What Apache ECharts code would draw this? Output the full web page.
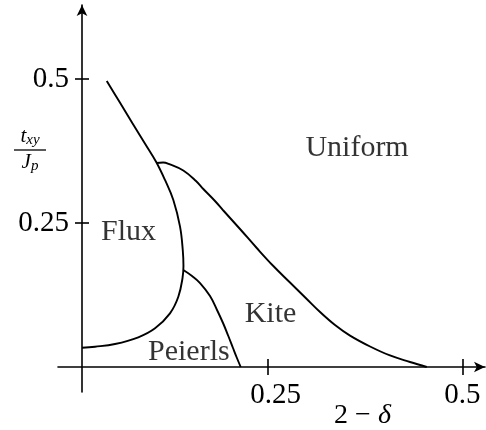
<!DOCTYPE html>
<html>
<head>
<meta charset="utf-8">
<script src="https://cdn.jsdelivr.net/npm/echarts@6/dist/echarts.min.js"></script>
<style>
  html, body { margin: 0; padding: 0; background: #fff; }
  #chart { width: 486px; height: 430px; }
</style>
</head>
<body>
<div id="chart"></div>
<script>
// Phase boundaries in the (2 - delta, t_xy / J_p) plane
const fluxBoundary = [
  [0.0433, 0.4965], [0.0598, 0.4601], [0.0761, 0.4236], [0.0919, 0.3889],
  [0.1068, 0.3559], [0.1181, 0.3247], [0.1288, 0.2899], [0.1374, 0.2436],
  [0.1409, 0.2031], [0.1418, 0.1753], [0.1406, 0.1545], [0.1352, 0.1220],
  [0.1245, 0.0932], [0.1053, 0.0672], [0.0838, 0.0516], [0.0539, 0.0399],
  [0.0282, 0.0352], [0.0116, 0.0335]
];
const kiteBoundary = [
  [0.1075, 0.3542], [0.1156, 0.3550], [0.1245, 0.3516], [0.1416, 0.3411],
  [0.1579, 0.3229], [0.1673, 0.3090], [0.1823, 0.2882], [0.1930, 0.2717],
  [0.2144, 0.2396], [0.2359, 0.2066], [0.2572, 0.1753], [0.2786, 0.1467],
  [0.3001, 0.1181], [0.3172, 0.0955], [0.3364, 0.0729], [0.3557, 0.0545],
  [0.3814, 0.0356], [0.4070, 0.0200], [0.4327, 0.0087], [0.4542, 0.0000]
];
const peierlsBoundary = [
  [0.1416, 0.1684], [0.1528, 0.1580], [0.1631, 0.1458], [0.1759, 0.1233],
  [0.1849, 0.0990], [0.1926, 0.0764], [0.1994, 0.0538], [0.2054, 0.0330],
  [0.2102, 0.0165], [0.2153, 0.0000]
];

// Phase names and where they sit
const regionNames = ['Uniform', 'Flux', 'Kite', 'Peierls'];
const regionX = [0.3647, 0.0713, 0.2536, 0.1487];
const regionY = [0.3800, 0.2344, 0.0920, 0.0260];

// Axis ranges and ticks
const xRange = [-0.0193, 0.529];
const yRange = [-0.0434, 0.6285];
const xTicks = [0.25, 0.5];
const yTicks = [0.25, 0.5];

const ink = '#000';
const serif = '"Liberation Serif", "DejaVu Serif", serif';
const axisLineStyle = { color: ink, width: 1.6 };

const chart = echarts.init(document.getElementById('chart'), null, { renderer: 'canvas' });

const baseX = {
  type: 'value', min: xRange[0], max: xRange[1],
  splitLine: { show: false }
};
const baseY = {
  type: 'value', min: yRange[0], max: yRange[1],
  splitLine: { show: false }
};

// The horizontal axis crosses the vertical one at t_xy = 0, the vertical
// axis stands a little to the right of the plot's left edge.
chart.setOption({
  animation: false,
  backgroundColor: '#fff',
  grid: { left: 58, right: 1, top: 5, bottom: 38, containLabel: false, outerBoundsMode: 'none' },
  xAxis: [
    Object.assign({}, baseX, {
      position: 'bottom', offset: -25,
      axisLine: { show: true, onZero: false, lineStyle: axisLineStyle,
                  symbol: ['none', 'arrow'], symbolSize: [8, 11] },
      axisTick: { show: true, customValues: xTicks, inside: false, length: 8, lineStyle: axisLineStyle },
      axisLabel: {
        show: true, customValues: xTicks, margin: 14,
        fontFamily: serif, fontSize: 29, color: ink,
        formatter: v => (v === 0.25 ? '{s|0.25}' : String(v)),
        rich: { s: { fontFamily: serif, fontSize: 29, color: ink, padding: [0, 0, 0, 16] } }
      },
      name: '2 − {i|δ}',
      nameLocation: 'middle',
      nameGap: 35,
      nameMoveOverlap: false,
      nameTextStyle: {
        fontFamily: serif, fontSize: 28, color: ink, padding: [0, 0, 0, 182],
        rich: { i: { fontFamily: serif, fontSize: 28, fontStyle: 'italic', color: ink } }
      }
    }),
    Object.assign({}, baseX, {
      position: 'bottom', offset: -25,
      axisLine: { show: false, onZero: false },
      axisTick: { show: true, customValues: xTicks, inside: true, length: 8, lineStyle: axisLineStyle },
      axisLabel: { show: false }
    })
  ],
  yAxis: [
    Object.assign({}, baseY, {
      position: 'left', offset: -24,
      axisLine: { show: true, onZero: false, lineStyle: axisLineStyle,
                  symbol: ['none', 'arrow'], symbolSize: [8, 11] },
      axisTick: { show: true, customValues: yTicks, inside: false, length: 7, lineStyle: axisLineStyle },
      axisLabel: {
        show: true, customValues: yTicks, margin: 13,
        fontFamily: serif, fontSize: 29, color: ink
      },
      name: '{t|t}{s|xy}\n{bar| }\n{t|J}{s|p}',
      nameLocation: 'middle',
      nameRotate: 0,
      nameGap: 52,
      nameMoveOverlap: false,
      nameTextStyle: {
        align: 'center', verticalAlign: 'middle', padding: [0, 0, 97, 0],
        rich: {
          t: { fontFamily: serif, fontStyle: 'italic', fontSize: 21, color: ink,
               lineHeight: 22, verticalAlign: 'top', align: 'center' },
          s: { fontFamily: serif, fontStyle: 'italic', fontSize: 15, color: ink,
               lineHeight: 22, verticalAlign: 'bottom', align: 'center' },
          bar: { width: 32, height: 1.3, lineHeight: 4, backgroundColor: ink, align: 'center' }
        }
      }
    }),
    Object.assign({}, baseY, {
      position: 'left', offset: -24,
      axisLine: { show: false, onZero: false },
      axisTick: { show: true, customValues: yTicks, inside: true, length: 7, lineStyle: axisLineStyle },
      axisLabel: { show: false }
    })
  ],
  series: [
    { name: 'Flux boundary', data: fluxBoundary },
    { name: 'Kite boundary', data: kiteBoundary },
    { name: 'Peierls boundary', data: peierlsBoundary }
  ].map(s => ({
    type: 'line', name: s.name, data: s.data,
    xAxisIndex: 0, yAxisIndex: 0,
    showSymbol: false, smooth: 0.4,
    lineStyle: { color: ink, width: 1.9 },
    silent: true
  })).concat([{
    type: 'scatter', name: 'Phases',
    xAxisIndex: 0, yAxisIndex: 0,
    symbolSize: 0, silent: true,
    data: regionNames.map((n, i) => ({ name: n, value: [regionX[i], regionY[i]] })),
    label: {
      show: true, position: 'inside', formatter: '{b}',
      fontFamily: serif, fontSize: 30, color: ink
    }
  }])
});
</script>
</body>
</html>
